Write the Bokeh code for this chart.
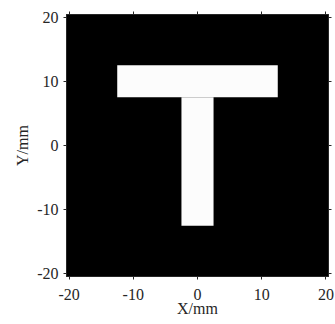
from bokeh.plotting import figure
from bokeh.models import FixedTicker, LinearAxis, Range1d
from bokeh.embed import file_html
from bokeh.resources import INLINE

# Axis ticks
tick_values = [-20, -10, 0, 10, 20]
tick_labels = ["-20", "-10", "0", "10", "20"]

# The "T" shape (in mm): top bar and stem
bar_left = [-12.5, -2.5]
bar_right = [12.5, 2.5]
bar_bottom = [7.5, -12.5]
bar_top = [12.5, 7.5]

x_limits = (-20.4, 20.4)
y_limits = (-20.4, 20.4)

FONT = "Liberation Serif"
AX_COLOR = "#262626"

p = figure(width=335, height=324,
           x_range=Range1d(*x_limits), y_range=Range1d(*y_limits),
           output_backend="svg", toolbar_location=None,
           min_border_left=66, min_border_right=7,
           min_border_top=14, min_border_bottom=48,
           background_fill_color="black",
           x_axis_label="X/mm", y_axis_label="Y/mm")

p.quad(left=bar_left, right=bar_right, bottom=bar_bottom, top=bar_top,
       fill_color="#fcfcfc", line_color=None)

p.grid.visible = False
p.outline_line_color = AX_COLOR

overrides = {v: s for v, s in zip(tick_values, tick_labels)}

for ax in [p.xaxis[0], p.yaxis[0]]:
    ax.ticker = FixedTicker(ticks=tick_values)
    ax.major_label_overrides = overrides
    ax.major_label_text_font = FONT
    ax.major_label_text_font_size = "16px"
    ax.major_label_text_color = "#262626"
    ax.axis_label_text_font = FONT
    ax.axis_label_text_font_size = "16px"
    ax.axis_label_text_font_style = "normal"
    ax.axis_label_text_color = "#262626"
    ax.major_tick_in = 0
    ax.major_tick_out = 3
    ax.minor_tick_line_color = None
    ax.major_tick_line_color = AX_COLOR
    ax.axis_line_color = AX_COLOR

p.xaxis[0].major_label_standoff = 9
p.xaxis[0].axis_label_standoff = -3
p.yaxis[0].major_label_standoff = 5
p.yaxis[0].axis_label_standoff = 3

for loc in ["above", "right"]:
    ax = LinearAxis(ticker=FixedTicker(ticks=tick_values),
                    major_label_text_font_size="1px",
                    major_label_text_color=None,
                    major_label_standoff=0,
                    major_tick_in=0, major_tick_out=3,
                    minor_tick_line_color=None,
                    major_tick_line_color=AX_COLOR,
                    axis_line_color=AX_COLOR)
    p.add_layout(ax, loc)

open("out.html", "w").write(file_html(p, INLINE))
